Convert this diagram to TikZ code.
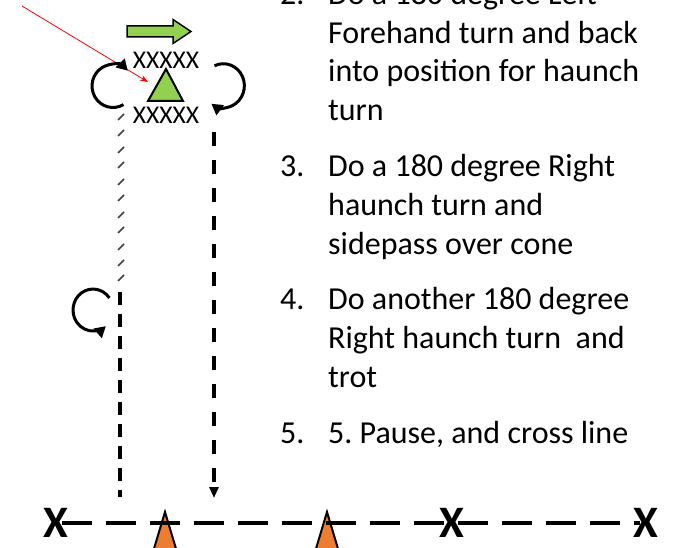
\documentclass[tikz,border=0pt]{standalone}
\usepackage{fontspec}
\setmainfont{Carlito}
\frenchspacing
\usetikzlibrary{arrows.meta}
\definecolor{grn}{HTML}{92D050}
\definecolor{org}{HTML}{ED7D31}
\begin{document}
\begin{tikzpicture}[x=1pt,y=-1pt,
  txt/.style={anchor=base west,inner sep=0pt,font=\fontsize{32}{38}\selectfont},
  xsmall/.style={inner sep=0pt,font=\fontsize{25.5}{28}\selectfont},
  xbig/.style={inner sep=0pt,font=\fontsize{45}{50}\selectfont\bfseries},
  turnarrow/.style={line width=3pt,-{Triangle[length=11pt,width=12pt]}},
  vdash/.style={line width=3.5pt,dash pattern=on 14pt off 14pt},
  vdashb/.style={line width=3.5pt,dash pattern=on 13pt off 9pt},
  hdash/.style={line width=3.5pt,dash pattern=on 30pt off 14pt},
  cone/.style={fill=org,draw=black,line width=2pt,line join=miter},
  hatch/.style={line width=1.6pt,draw=black!75}
]
\useasboundingbox (0,0) rectangle (673,548);
\clip (0,0) rectangle (673,548);

% instructions text
\node[txt] (n2) at (280,4.5) {2.};
\node[txt] (t1) at (328,4.5) {Do a 180 degree Left};
\node[txt] (t2) at (328,43.3) {Forehand turn and back};
\node[txt] (t3) at (328,82) {into position for haunch};
\node[txt] (t4) at (328,121) {turn};
\node[txt] (n3) at (280,176.7) {3.};
\node[txt] (t5) at (328,176.7) {Do a 180 degree Right};
\node[txt] (t6) at (328,215.3) {haunch turn and};
\node[txt] (t7) at (328,254.5) {sidepass over cone};
\node[txt] (n4) at (280,310) {4.};
\node[txt] (t8) at (328,310) {Do another 180 degree};
\node[txt] (t9) at (328,348.5) {Right haunch turn~ and};
\node[txt] (t10) at (328,387.5) {trot};
\node[txt] (n5) at (280,443.3) {5.};
\node[txt] (t11) at (328,443.3) {5. Pause, and cross line};

% cones
\path[cone] (165,512) -- (150,562) -- (180,562) -- cycle;
\path[cone] (327,512) -- (312,562) -- (342,562) -- cycle;

% big X markers
\node[xbig] (x1) at (56,523) {X};
\node[xbig] (x3) at (452,523) {X};
\node[xbig] (x4) at (646,523) {X};

% horizontal dashed line
\coordinate (h0) at (62,523);
\coordinate (h1) at (640,523);
\draw[hdash] (h0) -- (h1);

% green block arrow
\path[fill=grn,draw=black,line width=1.5pt,line join=miter]
  (127,26) -- (173,26) -- (173,19.5) -- (191,31.5) -- (173,43.5) -- (173,37) -- (127,37) -- cycle;

% XXXXX rows
\node[xsmall] (xt) at (166,60) {XXXXX};
\node[xsmall] (xb) at (166,115) {XXXXX};

% green triangle
\path[fill=grn,draw=black,line width=2pt,line join=miter] (166,69) -- (148,101) -- (183,101) -- cycle;
\coordinate (tri) at (148,82);

% red pointer
\coordinate (r0) at (22,6);
\draw[red,line width=0.8pt,-{Stealth[length=8pt,width=6pt]}] (r0) -- (tri);

% turning arrows
\draw[turnarrow] (123.5,104.6) arc[start angle=-60,end angle=-315,x radius=21pt,y radius=21.5pt];
\draw[turnarrow] (214.5,65.8) arc[start angle=115,end angle=-125,x radius=21pt,y radius=22pt];
\draw[turnarrow] (109.4,298) arc[start angle=35,end angle=310,x radius=20pt,y radius=21pt];

% hatched path
\foreach \yy in {117,133,150,165,182,198,215,230,247,263,278}
  \draw[hatch] (118,\yy+3) -- (124,\yy-3);

% left dashed line
\coordinate (l0) at (120,292);
\coordinate (l1) at (120,497);
\draw[vdashb] (l0) -- (l1);

% right dashed line with arrow
\coordinate (d0) at (214,132);
\coordinate (d1) at (214,498);
\draw[vdash,-{Triangle[length=11pt,width=9pt]}] (d0) -- (d1);
\end{tikzpicture}
\end{document}
